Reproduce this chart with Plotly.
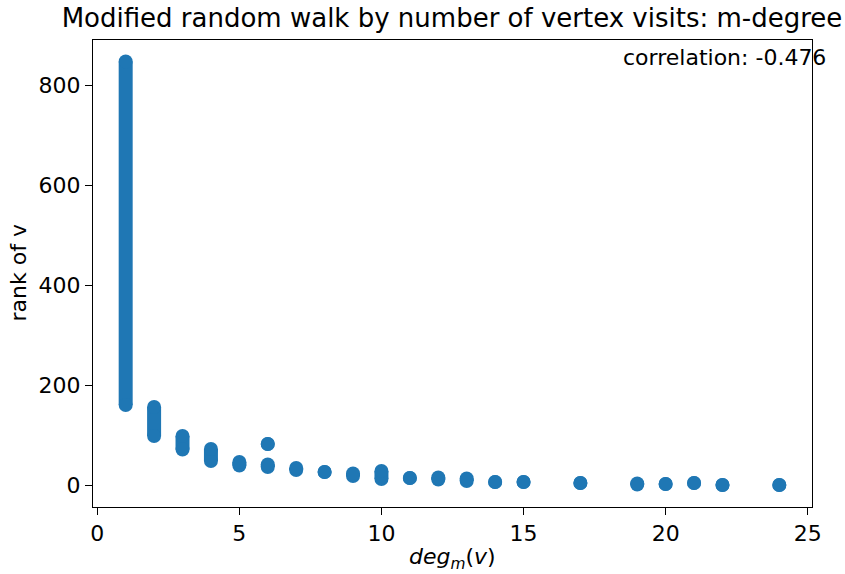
import plotly.graph_objects as go

# m-degree groups: each group of vertices shares a degree; ranks span [rank_lo, rank_hi]
degrees = [1, 2, 3, 4, 5, 6, 6, 7, 8, 9, 10, 11, 12, 13, 14, 15, 17, 19, 20, 21, 22, 24]
rank_lo = [161, 99, 72, 49, 40, 37, 83, 31, 27, 19, 13, 15, 12, 9, 7, 7, 5, 2, 3, 5, 1, 1]
rank_hi = [848, 157, 99, 73, 47, 42, 83, 35, 27, 24, 29, 15, 16, 14, 7, 7, 5, 4, 3, 5, 1, 1]
correlation = -0.476

xs, ys = [], []
for d, lo, hi in zip(degrees, rank_lo, rank_hi):
    xs += [d, d, None]
    ys += [lo, hi, None]

color = "#1f77b4"
font = "DejaVu Sans"

fig = go.Figure()
fig.add_trace(go.Scatter(
    x=xs, y=ys, mode="lines+markers",
    line=dict(color=color, width=14),
    marker=dict(color=color, size=14, line=dict(width=0)),
    connectgaps=False, hoverinfo="skip", showlegend=False,
))

axis_common = dict(
    showgrid=False, zeroline=False, showline=True, linecolor="black", linewidth=1,
    mirror=True, ticks="outside", ticklen=7, tickwidth=1, tickcolor="black",
    tickfont=dict(family=font, size=22, color="black"),
)
fig.update_xaxes(range=[-0.15, 25.15], tickvals=[0, 5, 10, 15, 20, 25], **axis_common)
fig.update_yaxes(range=[-43, 891], tickvals=[0, 200, 400, 600, 800], **axis_common)

fig.update_layout(
    width=845, height=574,
    margin=dict(l=93, r=33, t=40, b=67),
    plot_bgcolor="white", paper_bgcolor="white",
    title=dict(text="Modified random walk by number of vertex visits: m-degree",
               x=452 / 845, xanchor="center", y=1 - 18 / 574, yanchor="middle",
               yref="container", xref="container",
               font=dict(family=font, size=26, color="black")),
    annotations=[
        dict(text="correlation: %.3f" % correlation, xref="paper", yref="paper",
             x=(828 - 93) / 719, y=(507 - 57) / 467, xanchor="right", yanchor="middle",
             showarrow=False, font=dict(family=font, size=22, color="black")),
        dict(text="<i>deg</i><sub><i>m</i></sub>(<i>v</i>)", xref="paper", yref="paper",
             x=0.5, y=-(558 - 507) / 467, xanchor="center", yanchor="middle",
             showarrow=False, font=dict(family=font, size=22, color="black")),
        dict(text="rank of v", xref="paper", yref="paper", textangle=-90,
             x=-(93 - 18) / 719, y=0.5, xanchor="center", yanchor="middle",
             showarrow=False, font=dict(family=font, size=22, color="black")),
    ],
)

fig.write_html("out.html")
